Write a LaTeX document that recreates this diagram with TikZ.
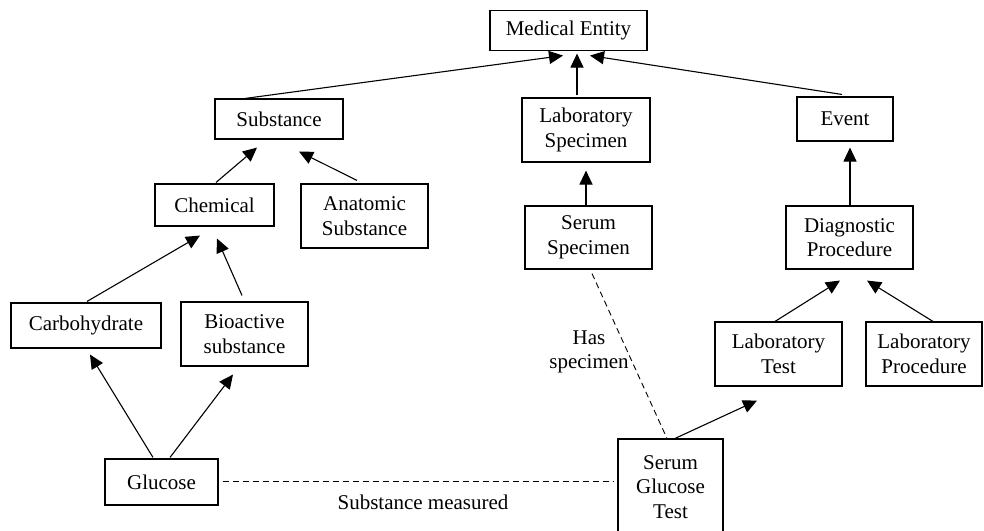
\documentclass[tikz,border=0pt]{standalone}
\usepackage{fontspec}
\setmainfont{Liberation Serif}
\usetikzlibrary{arrows.meta}
\begin{document}
\begin{tikzpicture}[x=1pt,y=-1pt,
  box/.style={draw,line width=1.1pt,inner sep=0pt,align=center,
    font=\fontsize{21}{24.5}\selectfont},
  lbl/.style={inner sep=0pt,align=center,font=\fontsize{21}{24.5}\selectfont},
  arr/.style={line width=1.1pt,-{Triangle[length=14pt,width=13pt]}},
  dsh/.style={line width=0.9pt,dash pattern=on 6pt off 4pt}]
\useasboundingbox (0,0) rectangle (984,530);
\clip (0,0) rectangle (984,530);
\node[box,minimum width=157,minimum height=40] (me) at (568.5,30.5) {Medical Entity};
\node[box,minimum width=128,minimum height=40] (subst) at (279,119) {Substance};
\node[box,minimum width=119,minimum height=42] (chem) at (214.5,205) {Chemical};
\node[box,minimum width=127,minimum height=64] (anat) at (364.5,216) {Anatomic\\Substance};
\node[box,minimum width=150,minimum height=45] (carb) at (86,325.5) {Carbohydrate};
\node[box,minimum width=127,minimum height=64] (bio) at (244.5,334) {Bioactive\\substance};
\node[box,minimum width=113,minimum height=46] (glu) at (161.5,482) {Glucose};
\node[box,minimum width=128,minimum height=64] (labspec) at (586,130) {Laboratory\\Specimen};
\node[box,minimum width=127,minimum height=63] (serspec) at (588.5,237.5) {Serum\\Specimen};
\node[box,minimum width=96,minimum height=44] (event) at (845,119) {Event};
\node[box,minimum width=127,minimum height=63] (diag) at (849.5,237.5) {Diagnostic\\Procedure};
\node[box,minimum width=127,minimum height=64] (labtest) at (778.5,354) {Laboratory\\Test};
\node[box,minimum width=116,minimum height=64] (labproc) at (924,354) {Laboratory\\Procedure};
\node[box,minimum width=105,minimum height=96] (sgt) at (670.5,487) {Serum\\Glucose\\Test};
\node[lbl] (has) at (589,352) {Has\\specimen};
\node[lbl] (sm) at (423,502) {Substance measured};
% is-a arrows
\draw[arr] ([xshift=-34pt]subst.north) -- ([xshift=-5.5pt,yshift=-4.5pt]me.south);
\draw[arr] ([xshift=-9pt,yshift=2pt]labspec.north) -- ([xshift=8.5pt,yshift=-2.5pt]me.south);
\draw[arr] ([xshift=-3pt,yshift=2pt]event.north) -- ([xshift=21.5pt,yshift=-4.5pt]me.south);
\draw[arr] ([xshift=1.5pt,yshift=1pt]chem.north) -- ([xshift=-22pt,yshift=-8pt]subst.south);
\draw[arr] ([xshift=-7.5pt,yshift=3pt]anat.north) -- ([xshift=20pt,yshift=-12pt]subst.south);
\draw[arr] ([xshift=1pt,yshift=1pt]carb.north) -- ([xshift=-14.5pt,yshift=-9pt]chem.south);
\draw[arr] ([xshift=-2.5pt,yshift=6pt]bio.north) -- ([xshift=2.5pt,yshift=-12pt]chem.south);
\draw[arr] ([xshift=-8.5pt,yshift=1pt]glu.north) -- ([xshift=4pt,yshift=-6pt]carb.south);
\draw[arr] ([xshift=8.5pt,yshift=1pt]glu.north) -- ([xshift=-11.5pt,yshift=-8pt]bio.south);
\draw[arr] ([xshift=-2.5pt]serspec.north) -- ([yshift=-8pt]labspec.south);
\draw[arr] ([xshift=0.5pt]diag.north) -- ([xshift=5pt,yshift=-6pt]event.south);
\draw[arr] ([xshift=-3.5pt]labtest.north) -- ([xshift=-9.5pt,yshift=-11pt]diag.south);
\draw[arr] ([xshift=9pt]labproc.north) -- ([xshift=17.5pt,yshift=-11pt]diag.south);
\draw[arr] ([xshift=4.5pt]sgt.north) -- ([xshift=-21.5pt,yshift=-14pt]labtest.south);
% relations
\draw[dsh] ([xshift=3.5pt,yshift=-4pt]serspec.south) -- ([xshift=-3.5pt]sgt.north);
\draw[dsh] ([xshift=4pt,yshift=1pt]glu.east) -- ([xshift=-4pt,yshift=6pt]sgt.west);
\end{tikzpicture}
\end{document}
